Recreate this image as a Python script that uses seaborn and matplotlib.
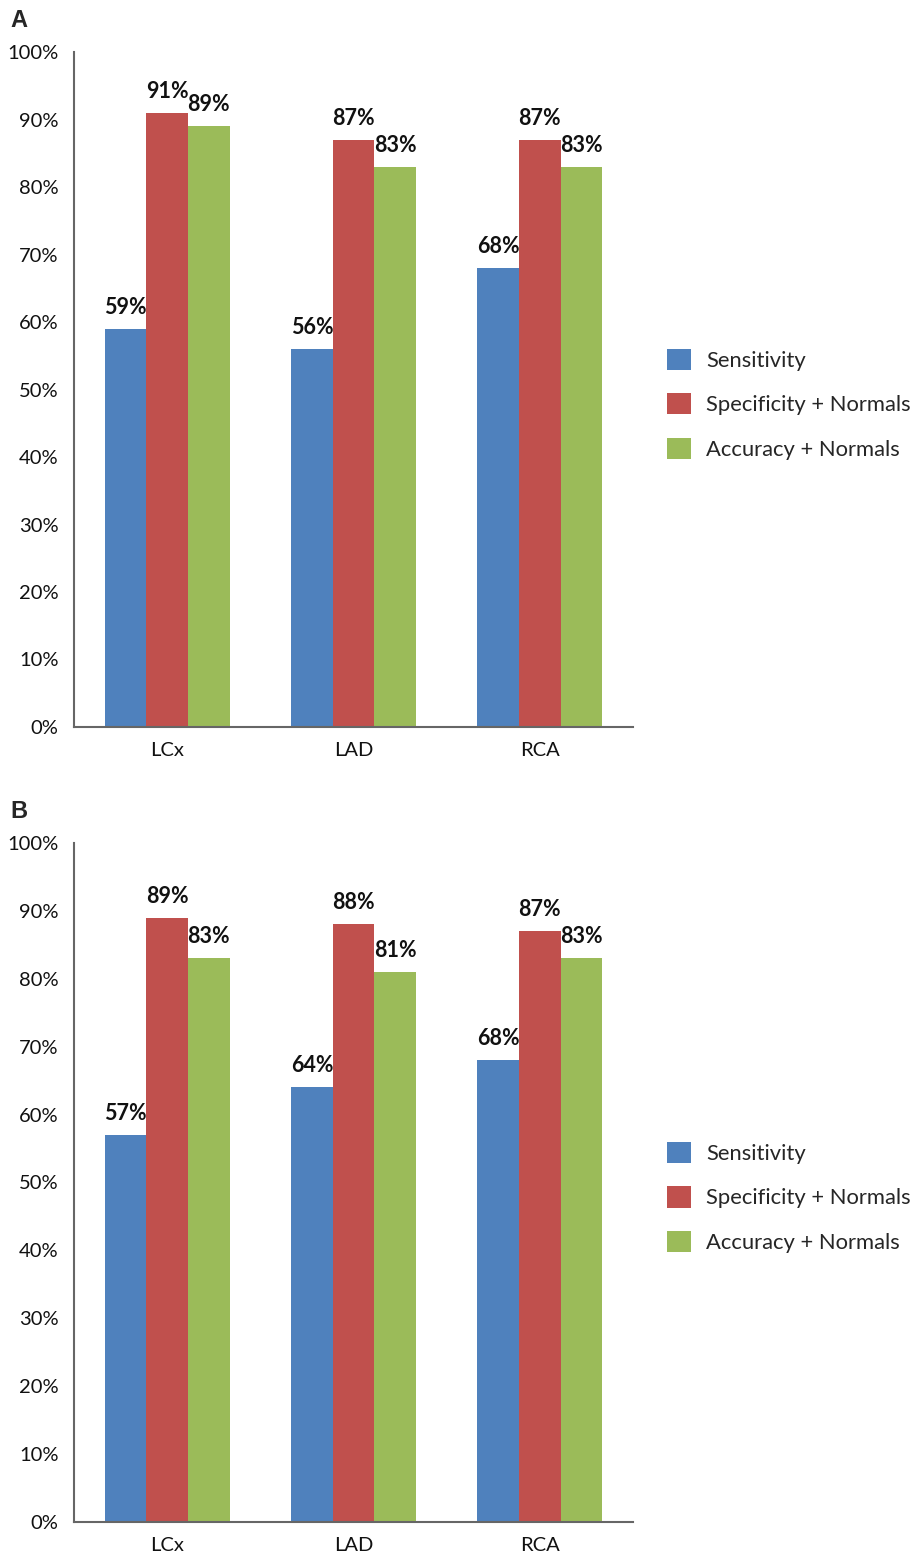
import matplotlib
matplotlib.use("Agg")
import matplotlib.pyplot as plt
import pandas as pd
import seaborn as sns

arteries = ["LCx", "LAD", "RCA"]
measures = ["Sensitivity", "Specificity + Normals", "Accuracy + Normals"]
colors = ["#4F81BD", "#C0504D", "#9BBB59"]

# Panel A values (%), per measure across arteries
a_sensitivity = [59, 56, 68]
a_specificity = [91, 87, 87]
a_accuracy = [89, 83, 83]

# Panel B values (%)
b_sensitivity = [57, 64, 68]
b_specificity = [89, 88, 87]
b_accuracy = [83, 81, 83]

y_ticks = list(range(0, 101, 10))


def long_frame(sens, spec, acc):
    rows = []
    for name, vals in zip(measures, [sens, spec, acc]):
        for art, v in zip(arteries, vals):
            rows.append({"artery": art, "measure": name, "value": v})
    return pd.DataFrame(rows)


sns.set_theme(style="white")
plt.rcParams["font.family"] = ["Lato", "DejaVu Sans"]

fig = plt.figure(figsize=(9.17, 15.55), dpi=100)
ax_a = fig.add_axes([0.0807, 0.5325, 0.6096, 0.434])
ax_b = fig.add_axes([0.0807, 0.0212, 0.6096, 0.4367])

panels = [
    (ax_a, long_frame(a_sensitivity, a_specificity, a_accuracy), "A"),
    (ax_b, long_frame(b_sensitivity, b_specificity, b_accuracy), "B"),
]

for ax, df, letter in panels:
    sns.barplot(data=df, x="artery", y="value", hue="measure",
                hue_order=measures, order=arteries, palette=colors,
                width=0.67, gap=0, saturation=1, linewidth=0,
                ax=ax, errorbar=None)
    ax.set_ylim(0, 100)
    ax.set_xlim(-0.5, 2.5)
    ax.set_yticks(y_ticks)
    ax.set_yticklabels([f"{t}%" for t in y_ticks])
    ax.set_xlabel("")
    ax.set_ylabel("")
    ax.tick_params(axis="both", length=0, labelsize=14.5, colors="#111111")
    ax.tick_params(axis="y", pad=11)
    ax.tick_params(axis="x", pad=11)
    for side in ["top", "right"]:
        ax.spines[side].set_visible(False)
    for side in ["left", "bottom"]:
        ax.spines[side].set_color("#666666")
        ax.spines[side].set_linewidth(1.5)

    for cont in ax.containers:
        ax.bar_label(cont, labels=[f"{b.get_height():.0f}%" for b in cont],
                     padding=8, fontsize=15.5, fontweight="bold", color="#111111")

    handles, labels = ax.get_legend_handles_labels()
    ax.legend(handles, labels, loc="center left", bbox_to_anchor=(1.045, 0.478),
              frameon=False, fontsize=15.8, handlelength=1.1, handleheight=1.1,
              labelspacing=1.02, handletextpad=0.68, borderaxespad=0)

    pos = ax.get_position()
    fig.text(0.011, pos.y1 + 0.013, letter, fontsize=17, fontweight="bold",
             family="Liberation Sans", ha="left", va="bottom")

fig.savefig("out.png", dpi=100)
